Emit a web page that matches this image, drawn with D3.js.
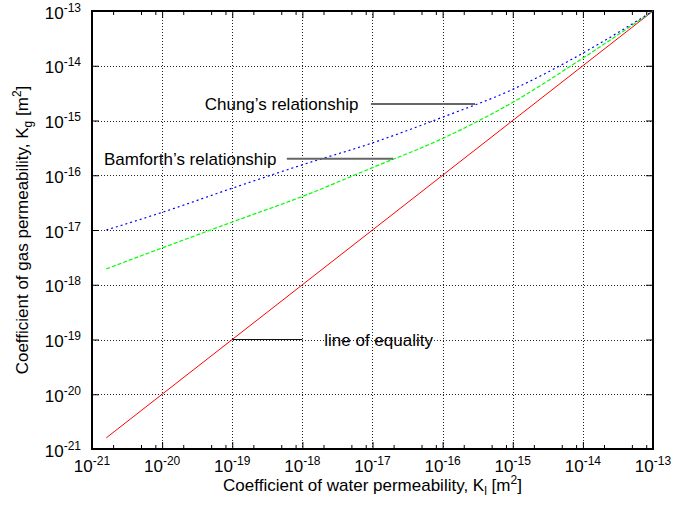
<!DOCTYPE html>
<html>
<head>
<meta charset="utf-8">
<script src="https://cdn.jsdelivr.net/npm/d3@7"></script>
<style>
  html, body { margin: 0; padding: 0; background: #fff; }
  svg { display: block; font-family: "Liberation Sans", Arial, Helvetica, sans-serif; }
</style>
</head>
<body>
<svg id="chart" width="674" height="509"></svg>
<script>
// Decade exponents used for the major ticks on both axes
const decadeExponents = [-21, -20, -19, -18, -17, -16, -15, -14, -13];
// Minor tick multipliers within each decade (x axis)
const minorMultipliers = [2, 5, 8];

// Water permeability K_l [m^2] at which the curves are sampled
const waterPerm = [1.6e-21, 1e-20, 1e-19, 1e-18, 1e-17, 1e-16, 1e-15, 1e-14, 1e-13];
// Gas permeability K_g [m^2] from Chung's relationship
const chungGas = [1.0e-17, 2.1e-17, 5.8e-17, 1.55e-16, 3.9e-16, 1.15e-15, 3.7e-15, 1.7e-14, 1e-13];
// Gas permeability K_g [m^2] from Bamforth's relationship
const bamforthGas = [1.95e-18, 4.7e-18, 1.4e-17, 4.1e-17, 1.38e-16, 4.7e-16, 2.15e-15, 1.38e-14, 1e-13];
// Line of equality K_g = K_l
const equalityGas = [1.6e-21, 1e-13];
const equalityWater = [1.6e-21, 1e-13];

const svg = d3.select("#chart");
const plotLeft = 92, plotRight = 653, plotTop = 11, plotBottom = 449;

const x = d3.scaleLog().domain([1e-21, 1e-13]).range([plotLeft, plotRight]);
const y = d3.scaleLog().domain([1e-21, 1e-13]).range([plotBottom, plotTop]);

const majors = decadeExponents.map(e => Math.pow(10, e));
const minors = [];
decadeExponents.slice(0, -1).forEach(e => minorMultipliers.forEach(m => minors.push(m * Math.pow(10, e))));
const inner = majors.slice(1, -1);

// Dotted grid
const grid = svg.append("g").attr("stroke", "#222").attr("stroke-width", 1).attr("stroke-dasharray", "1,2");
grid.selectAll("line.v").data(inner).join("line").attr("class", "v")
  .attr("x1", d => Math.round(x(d)) + 0.5).attr("x2", d => Math.round(x(d)) + 0.5)
  .attr("y1", plotTop).attr("y2", plotBottom);
grid.selectAll("line.h").data(inner).join("line").attr("class", "h")
  .attr("y1", d => Math.round(y(d)) + 0.5).attr("y2", d => Math.round(y(d)) + 0.5)
  .attr("x1", plotLeft).attr("x2", plotRight);

// Tick marks (inward, mirrored on top and right)
function tickAxis(axis, transform) {
  const g = svg.append("g").attr("transform", transform).call(axis);
  g.select(".domain").remove();
  g.selectAll(".tick line").attr("stroke", "#000").attr("stroke-width", 1);
  g.selectAll(".tick text").remove();
  return g;
}
tickAxis(d3.axisBottom(x).tickValues(majors).tickSize(-7).tickFormat(""), `translate(0,${plotBottom})`);
tickAxis(d3.axisBottom(x).tickValues(minors).tickSize(-4).tickFormat(""), `translate(0,${plotBottom})`);
tickAxis(d3.axisTop(x).tickValues(majors).tickSize(-7).tickFormat(""), `translate(0,${plotTop})`);
tickAxis(d3.axisTop(x).tickValues(minors).tickSize(-4).tickFormat(""), `translate(0,${plotTop})`);
tickAxis(d3.axisLeft(y).tickValues(majors).tickSize(-7).tickFormat(""), `translate(${plotLeft},0)`);
tickAxis(d3.axisRight(y).tickValues(majors).tickSize(-7).tickFormat(""), `translate(${plotRight},0)`);

// Plot border
svg.append("rect").attr("x", plotLeft).attr("y", plotTop)
  .attr("width", plotRight - plotLeft).attr("height", plotBottom - plotTop)
  .attr("fill", "none").attr("stroke", "#000").attr("stroke-width", 2);

// Tick labels: 10 with superscript exponent
const xl = svg.append("g").attr("font-size", 17).attr("fill", "#000").attr("text-anchor", "middle");
decadeExponents.forEach(e => {
  const t = xl.append("text").attr("x", x(Math.pow(10, e))).attr("y", 472);
  t.append("tspan").text("10");
  t.append("tspan").attr("font-size", 12).attr("dy", -7).text(e);
});
const yl = svg.append("g").attr("font-size", 17).attr("fill", "#000").attr("text-anchor", "end");
decadeExponents.forEach(e => {
  const t = yl.append("text").attr("x", 81).attr("y", y(Math.pow(10, e)) + 7.5);
  t.append("tspan").text("10");
  t.append("tspan").attr("font-size", 12).attr("dy", -7).text(e);
});

// Axis titles
const xt = svg.append("text").attr("x", (plotLeft + plotRight) / 2).attr("y", 491)
  .attr("text-anchor", "middle").attr("font-size", 17);
xt.append("tspan").text("Coefficient of water permeability, K");
xt.append("tspan").attr("font-size", 12).attr("dy", 4).text("l");
xt.append("tspan").attr("dy", -4).text(" [m");
xt.append("tspan").attr("font-size", 12).attr("dy", -7).text("2");
xt.append("tspan").attr("dy", 7).text("]");

const yt = svg.append("text").attr("transform", `translate(28,${(plotTop + plotBottom) / 2}) rotate(-90)`)
  .attr("text-anchor", "middle").attr("font-size", 17);
yt.append("tspan").text("Coefficient of gas permeability, K");
yt.append("tspan").attr("font-size", 12).attr("dy", 4).text("g");
yt.append("tspan").attr("dy", -4).text(" [m");
yt.append("tspan").attr("font-size", 12).attr("dy", -7).text("2");
yt.append("tspan").attr("dy", 7).text("]");

// Curves
const line = d3.line().x(d => x(d[0])).y(d => y(d[1])).curve(d3.curveMonotoneX);
svg.append("path").datum(d3.zip(equalityWater, equalityGas)).attr("d", line)
  .attr("fill", "none").attr("stroke", "#ff0000").attr("stroke-width", 1);
svg.append("path").datum(d3.zip(waterPerm, bamforthGas)).attr("d", line)
  .attr("fill", "none").attr("stroke", "#00ff00").attr("stroke-width", 1.2).attr("stroke-dasharray", "4,2");
svg.append("path").datum(d3.zip(waterPerm, chungGas)).attr("d", line)
  .attr("fill", "none").attr("stroke", "#0000ff").attr("stroke-width", 1.2).attr("stroke-dasharray", "2,3");

// Annotations with leader lines
const notes = [
  { text: "Chung\u2019s relationship", tx: 4.05e-20, ty: 2.0e-15, x1: 9.5e-18, x2: 2.9e-16, color: "#666", w: 2 },
  { text: "Bamforth\u2019s relationship", tx: 1.48e-21, ty: 2.0e-16, x1: 6.0e-19, x2: 1.97e-17, color: "#666", w: 2 },
  { text: "line of equality", tx: 2.05e-18, ty: 1e-19, x1: 1e-19, x2: 1e-18, color: "#111", w: 1.2 }
];
notes.forEach(n => {
  svg.append("line").attr("x1", x(n.x1)).attr("x2", x(n.x2))
    .attr("y1", y(n.ty)).attr("y2", y(n.ty))
    .attr("stroke", n.color).attr("stroke-width", n.w);
  svg.append("text").attr("x", x(n.tx)).attr("y", y(n.ty) + 6)
    .attr("font-size", 17).attr("fill", "#000").text(n.text);
});
</script>
</body>
</html>
